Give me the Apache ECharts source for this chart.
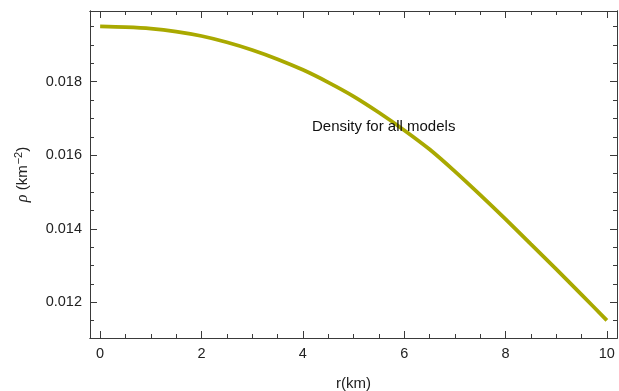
<!DOCTYPE html>
<html>
<head>
<meta charset="utf-8">
<script src="https://cdn.jsdelivr.net/npm/echarts@6/dist/echarts.min.js"></script>
<style>
html,body{margin:0;padding:0;background:#fff;}
#c{width:619px;height:391px;}
</style>
</head>
<body>
<div id="c"></div>
<script>
var rValues = [0,0.5,1,1.5,2,2.5,3,3.5,4,4.5,5,5.5,6,6.5,7,7.5,8,8.5,9,9.5,10];
var rhoValues = [0.01950,0.01948,0.01944,0.01936,0.01924,0.01907,0.01886,0.01861,0.01832,0.01798,0.01760,0.01716,0.01668,0.01616,0.01556,0.01492,0.01426,0.01358,0.01290,0.01221,0.01151];
var xMajorTicks = [0,2,4,6,8,10];
var xMinorTicks = [0.5,1,1.5,2.5,3,3.5,4.5,5,5.5,6.5,7,7.5,8.5,9,9.5];
var yMajorTicks = [0.012,0.014,0.016,0.018];
var yMinorTicks = [0.0115,0.0125,0.013,0.0135,0.0145,0.015,0.0155,0.0165,0.017,0.0175,0.0185,0.019,0.0195];
var annotationText = 'Density for all models';

var frameColor = '#3a3a3a';
var fontFam = 'Liberation Sans, Arial, sans-serif';
var xMin = -0.2, xMax = 10.2, yMin = 0.01103, yMax = 0.01992;

function xAx(pos, ticks, len, showLabel, extra) {
  var a = {
    type: 'value', position: pos, min: xMin, max: xMax,
    axisLine: {show: true, onZero: false, lineStyle: {color: frameColor, width: 1}},
    axisTick: {show: true, inside: true, length: len, customValues: ticks, lineStyle: {color: frameColor, width: 1}},
    axisLabel: {show: showLabel, customValues: ticks, margin: 8, color: '#222', fontSize: 14.5, fontFamily: fontFam},
    splitLine: {show: false}
  };
  for (var k in extra) a[k] = extra[k];
  return a;
}
function yAx(pos, ticks, len, showLabel, extra) {
  var a = {
    type: 'value', position: pos, min: yMin, max: yMax,
    axisLine: {show: true, onZero: false, lineStyle: {color: frameColor, width: 1}},
    axisTick: {show: true, inside: true, length: len, customValues: ticks, lineStyle: {color: frameColor, width: 1}},
    axisLabel: {show: showLabel, customValues: ticks, margin: 8, color: '#222', fontSize: 14.5, fontFamily: fontFam,
      formatter: function (v) { return v.toFixed(3); }},
    splitLine: {show: false}
  };
  for (var k in extra) a[k] = extra[k];
  return a;
}

var chart = echarts.init(document.getElementById('c'), null, {renderer: 'canvas'});
chart.setOption({
  animation: false,
  backgroundColor: '#fff',
  grid: {left: 90, right: 2, top: 11, bottom: 53, containLabel: false, outerBoundsMode: 'none'},
  xAxis: [
    xAx('bottom', xMajorTicks, 7, true, {
      name: 'r(km)', nameLocation: 'middle', nameGap: 38,
      nameTextStyle: {color: '#222', fontSize: 15, fontFamily: fontFam}
    }),
    xAx('bottom', xMinorTicks, 4, false, {}),
    xAx('top', xMajorTicks, 7, false, {}),
    xAx('top', xMinorTicks, 4, false, {})
  ],
  yAxis: [
    yAx('left', yMajorTicks, 7, true, {
      name: '{g|ρ} (km{sup|−2})', nameLocation: 'middle', nameGap: 58, nameRotate: 90,
      nameTextStyle: {color: '#222', fontSize: 15, fontFamily: fontFam,
        rich: {
          g: {fontStyle: 'italic', fontSize: 16, color: '#222', fontFamily: 'Liberation Serif, serif'},
          sup: {fontSize: 11, color: '#222', verticalAlign: 'top', padding: [0,0,8,1], fontFamily: fontFam}
        }}
    }),
    yAx('left', yMinorTicks, 4, false, {}),
    yAx('right', yMajorTicks, 7, false, {}),
    yAx('right', yMinorTicks, 4, false, {})
  ],
  series: [{
    type: 'line',
    xAxisIndex: 0, yAxisIndex: 0,
    data: rValues.map(function (r, i) { return [r, rhoValues[i]]; }),
    smooth: 0.3,
    showSymbol: false,
    lineStyle: {color: '#a9a900', width: 3.8},
    z: 3
  }],
  graphic: [{
    type: 'text', left: 312, top: 119, z: 10,
    style: {text: annotationText, fill: '#111', fontSize: 15, fontFamily: fontFam}
  }]
});
</script>
</body>
</html>
